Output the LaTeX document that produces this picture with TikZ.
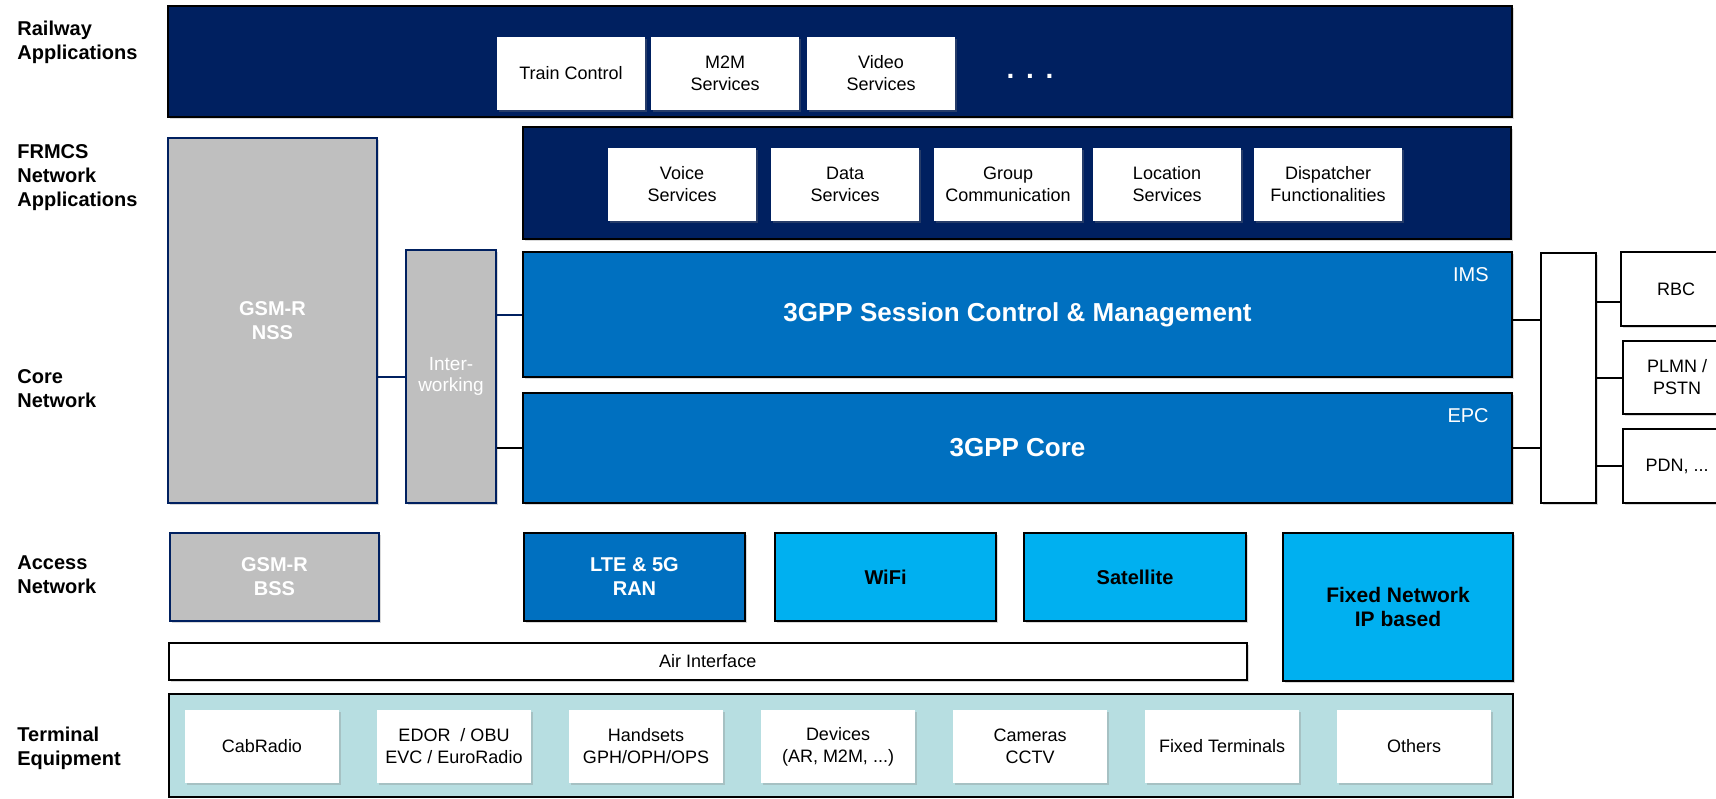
\documentclass[tikz,border=0pt]{standalone}
\usepackage{fontspec}
\setmainfont{Liberation Sans}
\usetikzlibrary{shadows}
\definecolor{navy}{RGB}{0,32,96}
\definecolor{midblue}{RGB}{0,112,192}
\definecolor{skyblue}{RGB}{0,176,240}
\definecolor{gsmgrey}{RGB}{191,191,191}
\definecolor{termteal}{RGB}{183,222,225}
\tikzset{
  shade/.style={drop shadow={shadow xshift=1.2pt, shadow yshift=-1.2pt, opacity=0.3}},
  layer/.style={anchor=west, align=left, font=\fontsize{10}{12}\selectfont\bfseries},
  band/.style={draw=black, line width=1pt, fill=navy, shade},
  appbox/.style={fill=white, minimum width=74pt, minimum height=36.5pt, shade},
  termbox/.style={appbox, minimum width=77pt},
  gsmbox/.style={draw=navy, line width=0.8pt, fill=gsmgrey, text=white, font=\fontsize{10}{12}\selectfont\bfseries, shade},
  corebox/.style={draw=black, line width=1pt, fill=midblue, text=white, font=\fontsize{13}{15}\selectfont\bfseries, minimum width=494.5pt, shade},
  tag/.style={anchor=east, text=white, font=\fontsize{10}{12}\selectfont},
  extbox/.style={draw=black, line width=0.9pt, fill=white, shade},
  accbox/.style={draw=black, line width=1pt, fill=skyblue, font=\fontsize{10}{12}\selectfont\bfseries, minimum height=44pt, shade},
  link/.style={line width=1pt}
}
\begin{document}
\begin{tikzpicture}[x=0.5pt, y=-0.5pt, every node/.style={align=center, inner sep=0pt, font=\fontsize{9}{11}\selectfont}]
\useasboundingbox (0,0) rectangle (1716,798);
\clip (0,0) rectangle (1716,798);

\node[layer] (lrail) at (17,42) {Railway\\Applications};
\node[layer] (lfrmcs) at (17,178) {FRMCS\\Network\\Applications};
\node[layer] (lcore) at (17,389) {Core\\Network};
\node[layer] (lacc) at (17,575) {Access\\Network};
\node[layer] (lterm) at (17,748) {Terminal\\Equipment};

% railway applications
\node[band, minimum width=672pt, minimum height=55.5pt] (railway) at (840,61.5) {};
\node[appbox] (trainctl) at (571,73.5) {Train Control}; \node[appbox] (m2m) at (725,73.5) {M2M\\Services}; \node[appbox] (video) at (881,73.5) {Video\\Services};
\node[text=white, font=\fontsize{14}{14}\selectfont\bfseries] (more) at (1030,76) {.\hspace{5.8pt}.\hspace{5.8pt}.};

% network applications
\node[band, minimum width=494pt, minimum height=56pt] (frmcs) at (1017,183) {};
\node[appbox] (voice) at (682,184) {Voice\\Services}; \node[appbox] (data) at (845,184) {Data\\Services}; \node[appbox] (group) at (1008,184) {Group\\Communication};
\node[appbox] (location) at (1167,184) {Location\\Services}; \node[appbox] (dispatch) at (1328,184) {Dispatcher\\Functionalities};

% core
\node[gsmbox, minimum width=104.5pt, minimum height=182.5pt] (nss) at (272.5,320.5) {GSM-R\\NSS};
\node[gsmbox, font=\fontsize{9.5}{10.5}\selectfont, minimum width=45pt, minimum height=126.5pt] (iw) at (451,376.5) {Inter-\\working};
\node[corebox, minimum height=62.5pt] (ims) at (1017.5,314.5) {3GPP Session Control \& Management};
\node[corebox, minimum height=55pt] (epc) at (1017.5,448) {3GPP Core};
\node[tag] (imstag) at (1489,275) {IMS}; \node[tag] (epctag) at (1489,415.5) {EPC};

\node[extbox, minimum width=27.5pt, minimum height=125pt] (bar) at (1568.5,378) {};
\node[extbox, minimum width=55pt, minimum height=37pt] (rbc) at (1676,289) {RBC};
\node[extbox, minimum width=54pt, minimum height=36.5pt] (plmn) at (1677,377.5) {PLMN /\\PSTN};
\node[extbox, minimum width=54pt, minimum height=37pt] (pdn) at (1677,466) {PDN, ...};

\draw[link, navy] (iw.west) -- (iw.west -| nss.east);
\draw[link, navy] (iw.east |- ims.west) -- (ims.west);
\draw[link] (iw.east |- epc.west) -- (epc.west);
\draw[link] (ims.east |- 0,320) -- (bar.west |- 0,320); \draw[link] (epc.east) -- (epc.east -| bar.west);
\draw[link] (bar.east |- 0,302) -- (rbc.west |- 0,302); \draw[link] (bar.east |- plmn.west) -- (plmn.west); \draw[link] (bar.east |- pdn.west) -- (pdn.west);

% access
\node[gsmbox, minimum width=104.5pt, minimum height=44pt] (bss) at (274.5,577) {GSM-R\\BSS};
\node[accbox, fill=midblue, text=white, minimum width=110.5pt] (ran) at (634.5,577) {LTE \& 5G\\RAN};
\node[accbox, minimum width=110.5pt] (wifi) at (885.5,577) {WiFi}; \node[accbox, minimum width=111pt] (sat) at (1135,577) {Satellite};
\node[accbox, font=\fontsize{10.5}{12}\selectfont\bfseries, minimum width=115pt, minimum height=74pt] (fixed) at (1398,607) {Fixed Network\\IP based};
\node[draw=black, line width=1pt, fill=white, minimum width=538.75pt, minimum height=18.5pt, shade] (air) at (707.75,661.5) {Air Interface};

% terminals
\node[draw=black, line width=1pt, fill=termteal, minimum width=672pt, minimum height=51.5pt] (term) at (841,745.5) {};
\node[termbox] (cab) at (262,746.5) {CabRadio}; \node[termbox] (edor) at (454,746.5) {EDOR~ / OBU\\EVC / EuroRadio}; \node[termbox] (hand) at (646,746.5) {Handsets\\GPH/OPH/OPS};
\node[termbox] (dev) at (838,746.5) {Devices\\(AR, M2M, ...)}; \node[termbox] (cam) at (1030,746.5) {Cameras\\CCTV};
\node[termbox] (fixterm) at (1222,746.5) {Fixed Terminals}; \node[termbox] (others) at (1414,746.5) {Others};
\end{tikzpicture}
\end{document}
